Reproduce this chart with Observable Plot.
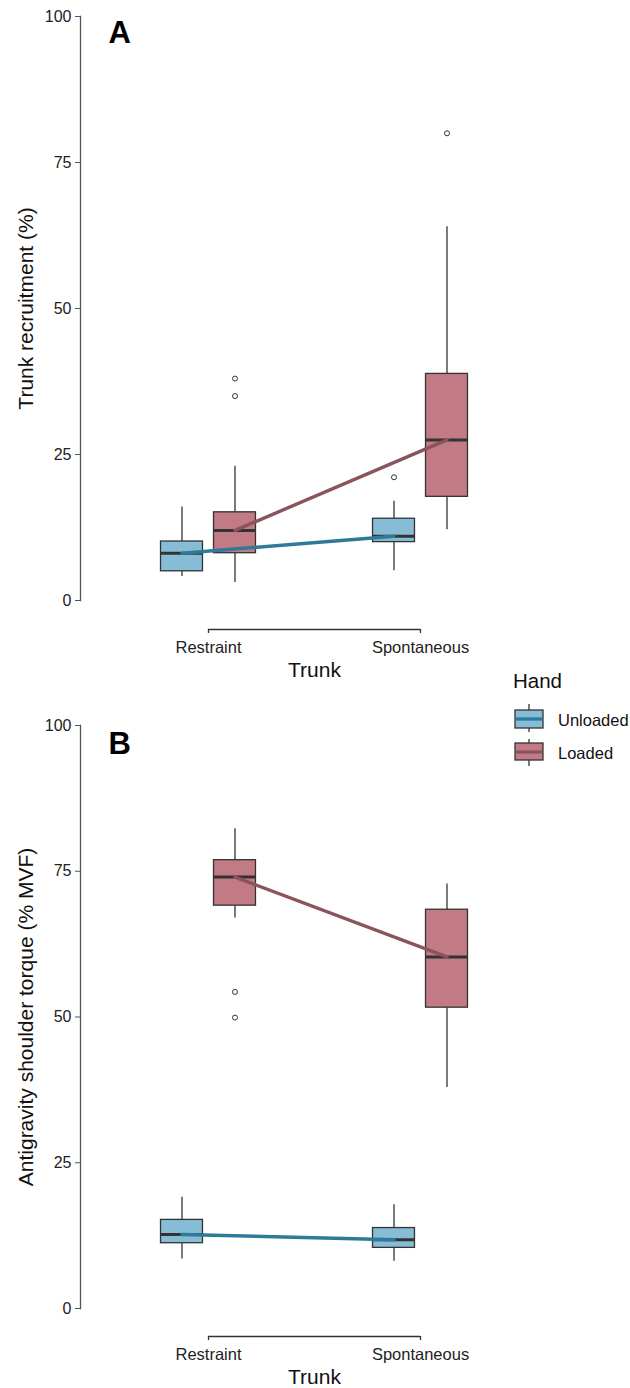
<!DOCTYPE html>
<html>
<head>
<meta charset="utf-8">
<script src="https://cdn.jsdelivr.net/npm/d3@7"></script>
<script src="https://cdn.jsdelivr.net/npm/@observablehq/plot@0.6"></script>
<style>
  html, body { margin: 0; padding: 0; background: #fff; }
  #wrap { position: relative; width: 630px; height: 1388px; font-family: "Liberation Sans", Arial, sans-serif; }
  #wrap svg { display: block; }
  #legend { position: absolute; left: 490px; top: 660px; overflow: visible; }
</style>
</head>
<body>
<div id="wrap">
  <div id="panelA"></div>
  <div id="panelB"></div>
  <svg id="legend" width="140" height="110"></svg>
</div>
<script>
// ---- data ----
const trunk = ["Restraint", "Spontaneous"];
const hands = ["Unloaded", "Loaded"];
const handFill = ["#86BCD6", "#C27B84"];
const handLine = ["#2F7A99", "#8B545C"];
const yTicks = [0, 25, 50, 75, 100];

// box stats per trunk level: [lower whisker, Q1, median, Q3, upper whisker]
const recruitUnloaded = [[4.1, 5.0, 8.1, 10.1, 16.0], [5.1, 10.0, 11.0, 14.0, 17.0]];
const recruitLoaded   = [[3.1, 8.1, 12.0, 15.1, 23.0], [12.1, 17.75, 27.5, 38.8, 64.0]];
const recruitUnloadedOutliers = [[], [21.1]];
const recruitLoadedOutliers   = [[38.0, 35.0], [80.0]];

const torqueUnloaded = [[8.5, 11.2, 12.7, 15.2, 19.1], [8.1, 10.4, 11.8, 13.8, 17.8]];
const torqueLoaded   = [[67.0, 69.1, 74.0, 76.9, 82.3], [37.9, 51.6, 60.3, 68.4, 72.8]];
const torqueUnloadedOutliers = [[], []];
const torqueLoadedOutliers   = [[54.3, 49.9], []];

// ---- layout constants ----
const dodge = 0.125;   // offset of each hand group from the trunk position (x units)
const halfW = 0.099;   // half box width (x units)
const FONT = "Liberation Sans, Arial, sans-serif";

function buildRows(statsByHand) {
  const rows = [];
  statsByHand.forEach((stats, h) => {
    stats.forEach((s, t) => {
      rows.push({
        trunk: trunk[t], hand: hands[h], h,
        pos: t + (h === 0 ? -dodge : dodge),
        lo: s[0], q1: s[1], med: s[2], q3: s[3], hi: s[4]
      });
    });
  });
  return rows;
}
function buildOutliers(outByHand) {
  const pts = [];
  outByHand.forEach((arr, h) => arr.forEach((vals, t) => vals.forEach(v => {
    pts.push({hand: hands[h], pos: t + (h === 0 ? -dodge : dodge), v});
  })));
  return pts;
}

function panel({stats, outliers, yLabel, letter, marginTop, marginBottom, axisDy, letterDy}) {
  const rows = buildRows(stats);
  const pts = buildOutliers(outliers);
  const marks = [
    Plot.frame({anchor: "left", stroke: "#555", strokeWidth: 1.3}),
    Plot.axisY({ticks: yTicks, tickSize: 5, tickPadding: 4, fontSize: 16, fill: "#222", stroke: "#555", label: null}),
    Plot.ruleY([0], {x1: 0, x2: 1, dy: axisDy, stroke: "#333", strokeWidth: 1.3}),
    Plot.axisX({ticks: d3.range(trunk.length), tickFormat: i => trunk[i], tickSize: 4, tickPadding: 8, dy: axisDy, fontSize: 16.5, fill: "#222", stroke: "#333", strokeWidth: 1.3, label: null}),
    Plot.text(["Trunk"], {x: d3.mean(d3.range(trunk.length)), y: 0, dy: axisDy + 41, fontSize: 21, fill: "#111"}),
    Plot.text([yLabel], {frameAnchor: "left", rotate: -90, textAnchor: "middle", dx: -54, fontSize: 21, fill: "#111"}),
    Plot.text([letter], {frameAnchor: "top-left", dx: 28, dy: letterDy, textAnchor: "start", lineAnchor: "top", fontSize: 31, fontWeight: "bold", fill: "#000"})
  ];
  hands.forEach((hand, h) => {
    const r = rows.filter(d => d.h === h);
    marks.push(
      Plot.ruleX(r, {x: "pos", y1: "lo", y2: "q1", stroke: "#333", strokeWidth: 1.3}),
      Plot.ruleX(r, {x: "pos", y1: "q3", y2: "hi", stroke: "#333", strokeWidth: 1.3}),
      Plot.rectY(r, {x1: d => d.pos - halfW, x2: d => d.pos + halfW, y1: "q1", y2: "q3", fill: handFill[h], stroke: "#333", strokeWidth: 1.3}),
      Plot.ruleY(r, {x1: d => d.pos - halfW, x2: d => d.pos + halfW, y: "med", stroke: "#333", strokeWidth: 3})
    );
  });
  marks.push(Plot.dot(pts, {x: "pos", y: "v", r: 2.5, stroke: "#333", strokeWidth: 1, fill: "none"}));
  hands.forEach((hand, h) => {
    const r = rows.filter(d => d.h === h);
    marks.push(Plot.line(r, {x: "pos", y: "med", stroke: handLine[h], strokeWidth: 3.4}));
  });
  return Plot.plot({
    width: 630,
    height: 694,
    marginLeft: 80,
    marginRight: 0,
    marginTop,
    marginBottom,
    style: {fontFamily: FONT, background: "#fff"},
    x: {domain: [0, 1], range: [208, 420]},
    y: {domain: [0, 100]},
    marks
  });
}

document.getElementById("panelA").appendChild(panel({
  stats: [recruitUnloaded, recruitLoaded],
  outliers: [recruitUnloadedOutliers, recruitLoadedOutliers],
  yLabel: "Trunk recruitment (%)", letter: "A",
  marginTop: 16, marginBottom: 94, axisDy: 29, letterDy: 4
}));
document.getElementById("panelB").appendChild(panel({
  stats: [torqueUnloaded, torqueLoaded],
  outliers: [torqueUnloadedOutliers, torqueLoadedOutliers],
  yLabel: "Antigravity shoulder torque (% MVF)", letter: "B",
  marginTop: 31, marginBottom: 80, axisDy: 28, letterDy: 6
}));

// ---- legend ----
const lg = d3.select("#legend");
lg.append("text").attr("x", 23).attr("y", 28).attr("font-size", 20.5).attr("font-family", FONT).attr("fill", "#111").text("Hand");
const keyY = [[44, 50, 68, 72, 59], [79, 83, 100, 106, 92]]; // whisker top, box top, box bottom, whisker bottom, median
hands.forEach((hand, h) => {
  const [wt, bt, bb, wb, m] = keyY[h];
  lg.append("line").attr("x1", 39).attr("x2", 39).attr("y1", wt).attr("y2", wb).attr("stroke", "#333").attr("stroke-width", 1.3);
  lg.append("rect").attr("x", 25).attr("y", bt).attr("width", 28).attr("height", bb - bt).attr("fill", handFill[h]).attr("stroke", "#333").attr("stroke-width", 1.3);
  lg.append("line").attr("x1", 25).attr("x2", 53).attr("y1", m).attr("y2", m).attr("stroke", handLine[h]).attr("stroke-width", 3.2);
  lg.append("text").attr("x", 68).attr("y", m + 1).attr("dominant-baseline", "central").attr("font-size", 16.5).attr("font-family", FONT).attr("fill", "#111").text(hand);
});
</script>
</body>
</html>
